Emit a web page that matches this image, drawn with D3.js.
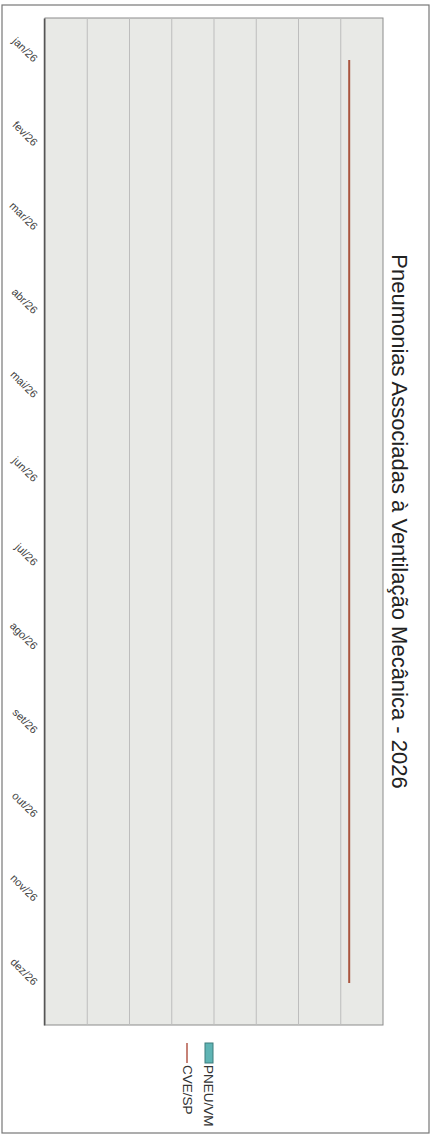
<!DOCTYPE html>
<html>
<head>
<meta charset="utf-8">
<script src="https://cdn.jsdelivr.net/npm/d3@7/dist/d3.min.js"></script>
<style>
  html, body { margin: 0; padding: 0; background: #fff; }
  svg { display: block; }
</style>
</head>
<body>
<svg id="chart" width="433" height="1134"></svg>
<script>
// ---- data ----
const months = ["jan/26","fev/26","mar/26","abr/26","mai/26","jun/26","jul/26","ago/26","set/26","out/26","nov/26","dez/26"];
const pneuValues = [null,null,null,null,null,null,null,null,null,null,null,null];
const cveValues = [7.2,7.2,7.2,7.2,7.2,7.2,7.2,7.2,7.2,7.2,7.2,7.2];
const yTicks = [0,1,2,3,4,5,6,7,8];
const seriesNames = ["PNEU/VM","CVE/SP"];
const titleText = "Pneumonias Associadas à Ventilação Mecânica - 2026";

// ---- layout (chart drawn landscape, then rotated 90° clockwise) ----
const W = 1134, H = 433;
const plot = {left: 18, right: 1025, top: 50, bottom: 388};

const svg = d3.select("#chart");
const g = svg.append("g").attr("transform", `translate(${H},0) rotate(90)`);

// outer frame
g.append("rect").attr("x", 5).attr("y", 4).attr("width", W - 6).attr("height", H - 6)
  .attr("fill", "#fff").attr("stroke", "#777").attr("stroke-width", 1.2);

const x = d3.scaleBand().domain(months).range([plot.left, plot.right]).padding(0);
const y = d3.scaleLinear().domain([0, 8]).range([plot.bottom, plot.top]);

// plot background
g.append("rect").attr("x", plot.left).attr("y", plot.top)
  .attr("width", plot.right - plot.left).attr("height", plot.bottom - plot.top)
  .attr("fill", "#e8e9e6").attr("stroke", "#8c8c8c").attr("stroke-width", 1);

// horizontal grid lines
g.append("g").selectAll("line").data(yTicks.slice(1, -1)).join("line")
  .attr("x1", plot.left).attr("x2", plot.right)
  .attr("y1", d => y(d)).attr("y2", d => y(d))
  .attr("stroke", "#bdbdbd").attr("stroke-width", 1);

// bars (PNEU/VM) - no data yet
const bw = x.bandwidth() * 0.6;
g.append("g").selectAll("rect").data(months.map((m, i) => ({m, v: pneuValues[i]})).filter(d => d.v != null))
  .join("rect")
  .attr("x", d => x(d.m) + (x.bandwidth() - bw) / 2).attr("width", bw)
  .attr("y", d => y(d.v)).attr("height", d => y(0) - y(d.v))
  .attr("fill", "#5fb4b4").attr("stroke", "#2f6f6f");

// x axis
const xAxis = g.append("g").attr("transform", `translate(0,${plot.bottom})`)
  .call(d3.axisBottom(x).tickSize(0).tickPadding(0));
xAxis.select(".domain").attr("stroke", "#555").attr("stroke-width", 1.5);
xAxis.selectAll("text")
  .attr("font-family", "Liberation Sans, Arial, sans-serif")
  .attr("font-size", 11)
  .attr("fill", "#444")
  .attr("text-anchor", "end")
  .attr("dy", "0")
  .attr("transform", "translate(3,12) rotate(-45)");

// CVE/SP line
const line = d3.line().x((d, i) => x(months[i]) + x.bandwidth() / 2).y(d => y(d));
g.append("path").datum(cveValues).attr("d", line)
  .attr("fill", "none").attr("stroke", "#a9553f").attr("stroke-width", 2);

// title
g.append("text").attr("x", (plot.left + plot.right) / 2).attr("y", 41)
  .attr("text-anchor", "middle")
  .attr("font-family", "Liberation Sans, Arial, sans-serif")
  .attr("font-size", 22).attr("fill", "#222")
  .text(titleText);

// legend
const lg = g.append("g").attr("transform", "translate(1043,220)");
lg.append("rect").attr("x", 0).attr("y", 0).attr("width", 20).attr("height", 8)
  .attr("fill", "#5fb4b4").attr("stroke", "#3c7c7c").attr("stroke-width", 1);
lg.append("text").attr("x", 22).attr("y", 9).text(seriesNames[0])
  .attr("font-family", "Liberation Sans, Arial, sans-serif").attr("font-size", 13.5).attr("fill", "#333");
lg.append("line").attr("x1", 0).attr("x2", 20).attr("y1", 26).attr("y2", 26)
  .attr("stroke", "#b3584a").attr("stroke-width", 1.5);
lg.append("text").attr("x", 22).attr("y", 30).text(seriesNames[1])
  .attr("font-family", "Liberation Sans, Arial, sans-serif").attr("font-size", 13.5).attr("fill", "#333");
</script>
</body>
</html>
